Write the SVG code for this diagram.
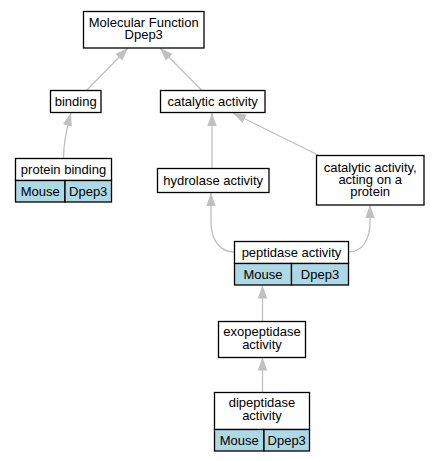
<svg xmlns="http://www.w3.org/2000/svg" width="439" height="461" viewBox="0 0 439 461">
<defs>
<marker id="arr" markerUnits="userSpaceOnUse" markerWidth="14" markerHeight="10" refX="13" refY="4.75" orient="auto">
<path d="M0,0 L13,4.75 L0,9.5 z" fill="#c0c0c0"/>
</marker>
<style>
.box{fill:#fff;stroke:#000;stroke-width:1.3}
.cell{fill:#add8e6;stroke:#000;stroke-width:1.3}
text{font-family:"Liberation Sans",Arial,sans-serif;font-size:13px;fill:#000;text-anchor:middle}
.e{fill:none;stroke:#c0c0c0;stroke-width:1.3;marker-end:url(#arr)}
</style>
</defs>
<rect width="439" height="461" fill="#fff"/>
<g id="edges">
<path class="e" d="M87,90 L128,48"/>
<path class="e" d="M201.5,90 L160,48"/>
<path class="e" d="M63.5,158.5 C63.5,145 66,130 71,113"/>
<path class="e" d="M212,168 L212,113"/>
<path class="e" d="M318,155 L233,113"/>
<path class="e" d="M234.5,252 C220,252 211,240 211,222 L211,193"/>
<path class="e" d="M348.5,252 C362,252 370,240 370,222 L370,205"/>
<path class="e" d="M262.5,321 L262.5,285.5"/>
<path class="e" d="M262.5,392.5 L262.5,357.5"/>
</g>
<g id="mf">
<rect class="box" x="83.5" y="11.5" width="120.5" height="36.5"/>
<text x="143.7" y="27">Molecular Function</text>
<text x="143.7" y="39">Dpep3</text>
</g>
<g id="binding">
<rect class="box" x="50.5" y="90.5" width="50.5" height="22"/>
<text x="75.7" y="106">binding</text>
</g>
<g id="catalytic">
<rect class="box" x="160.5" y="90.5" width="104.5" height="22"/>
<text x="212.7" y="106">catalytic activity</text>
</g>
<g id="proteinbinding">
<rect class="box" x="15.5" y="158.5" width="96" height="22"/>
<rect class="cell" x="15.5" y="180.5" width="49.5" height="21.5"/>
<rect class="cell" x="65" y="180.5" width="46.5" height="21.5"/>
<text x="63.5" y="174">protein binding</text>
<text x="40.2" y="196">Mouse</text>
<text x="88.2" y="196">Dpep3</text>
</g>
<g id="hydrolase">
<rect class="box" x="157.5" y="168.5" width="111.5" height="24"/>
<text x="213.2" y="185">hydrolase activity</text>
</g>
<g id="catacting">
<rect class="box" x="316.5" y="155.5" width="107.5" height="49.5"/>
<text x="370.2" y="172">catalytic activity,</text>
<text x="370.2" y="184">acting on a</text>
<text x="370.2" y="196">protein</text>
</g>
<g id="peptidase">
<rect class="box" x="234.5" y="241.5" width="114" height="22"/>
<rect class="cell" x="234.5" y="263.5" width="57" height="21.5"/>
<rect class="cell" x="291.5" y="263.5" width="57" height="21.5"/>
<text x="291.5" y="257">peptidase activity</text>
<text x="263" y="279">Mouse</text>
<text x="320" y="279">Dpep3</text>
</g>
<g id="exopeptidase">
<rect class="box" x="218.5" y="321.5" width="87" height="36"/>
<text x="262" y="336">exopeptidase</text>
<text x="262" y="349">activity</text>
</g>
<g id="dipeptidase">
<rect class="box" x="214.5" y="392.5" width="95" height="37"/>
<rect class="cell" x="214.5" y="429.5" width="49.5" height="21.5"/>
<rect class="cell" x="264" y="429.5" width="45.5" height="21.5"/>
<text x="262" y="407">dipeptidase</text>
<text x="262" y="420">activity</text>
<text x="239.2" y="445">Mouse</text>
<text x="286.7" y="445">Dpep3</text>
</g>
</svg>
